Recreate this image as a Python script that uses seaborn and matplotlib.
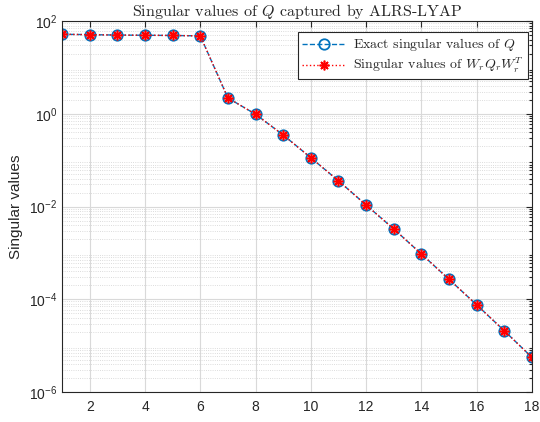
import numpy as np
import pandas as pd
import matplotlib
matplotlib.use("Agg")
import matplotlib.pyplot as plt
import seaborn as sns
from matplotlib.ticker import LogLocator, FixedLocator, NullFormatter

# ---- data ----
index = list(range(1, 19))
exact_sv = [52, 51, 50, 49.5, 49, 48, 2.2, 0.98, 0.35, 0.113, 0.036, 0.0108,
            0.0033, 9.5e-4, 2.7e-4, 7.6e-5, 2.1e-5, 5.6e-6]
approx_sv = [52, 51, 50, 49.5, 49, 48, 2.2, 0.98, 0.35, 0.113, 0.036, 0.0108,
             0.0033, 9.5e-4, 2.7e-4, 7.6e-5, 2.1e-5, 5.6e-6]
x_ticks = [2, 4, 6, 8, 10, 12, 14, 16, 18]
y_ticks = [1e-6, 1e-4, 1e-2, 1e0, 1e2]
title_text = r"Singular values of $Q$ captured by ALRS-LYAP"
label_exact = r"Exact singular values of $Q$"
label_approx = r"Singular values of $W_r Q_r W_r^T$"
ylabel_text = "Singular values"

sns.set_theme(style="white")
plt.rcParams["font.family"] = ["Liberation Sans", "DejaVu Sans"]
plt.rcParams["mathtext.fontset"] = "cm"
plt.rcParams["axes.unicode_minus"] = False

fig = plt.figure(figsize=(5.4, 4.22), dpi=100)
ax = fig.add_axes([0.115, 0.071, 0.870, 0.879])

df = pd.DataFrame({"k": index, "exact": exact_sv, "approx": approx_sv})

sns.lineplot(data=df, x="k", y="exact", ax=ax, color="#0072BD", linestyle="--",
             linewidth=1.0, marker="o", markersize=7.5, markerfacecolor="none",
             markeredgecolor="#0072BD", markeredgewidth=1.3, label=label_exact)
sns.lineplot(data=df, x="k", y="approx", ax=ax, color="red", linestyle=":",
             linewidth=1.0, marker=(8, 2, 0), markersize=7, markerfacecolor="red",
             markeredgecolor="red", markeredgewidth=1.2, label=label_approx)

ax.set_yscale("log")
ax.set_xlim(1, 18)
ax.set_ylim(1e-6, 1e2)
ax.xaxis.set_major_locator(FixedLocator(x_ticks))
ax.set_xticklabels([str(t) for t in x_ticks])
ax.yaxis.set_major_locator(FixedLocator(y_ticks))
ax.set_yticklabels([r"$\mathregular{10^{%d}}$" % int(np.log10(t)) for t in y_ticks])
ax.yaxis.set_minor_locator(LogLocator(base=10, subs=np.arange(2, 10), numticks=20))
ax.yaxis.set_minor_formatter(NullFormatter())

ax.grid(True, which="major", color="#d9d9d9", linewidth=0.8, linestyle="-")
ax.grid(True, which="minor", axis="y", color="#d0d0d0", linewidth=0.6, linestyle=":")
ax.set_axisbelow(True)

ax.tick_params(axis="both", which="both", direction="in", top=True, right=True,
               labelsize=10, colors="#262626", length=4, width=0.8)
ax.tick_params(axis="y", which="minor", length=2.5)
ax.tick_params(axis="x", pad=6)
for s in ax.spines.values():
    s.set_color("#262626")
    s.set_linewidth(0.8)

ax.set_xlabel("")
ax.set_ylabel(ylabel_text, fontsize=11, color="#262626")
ax.set_title(title_text, fontsize=11.5, family="cmr10", pad=4)

leg = ax.legend(loc="upper right", bbox_to_anchor=(0.992, 0.97), frameon=True,
                fancybox=False, edgecolor="#262626", framealpha=1,
                borderaxespad=0.0, handlelength=3.2, borderpad=0.3,
                labelspacing=0.2, handletextpad=0.5,
                prop={"family": "cmr10", "size": 10})
leg.get_frame().set_linewidth(0.8)

fig.savefig("out.png", dpi=100)
